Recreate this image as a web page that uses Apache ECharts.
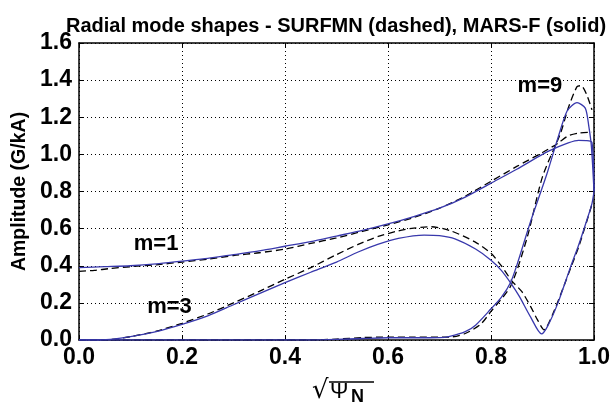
<!DOCTYPE html>
<html>
<head>
<meta charset="utf-8">
<script src="https://cdn.jsdelivr.net/npm/echarts@6/dist/echarts.min.js"></script>
<style>
html,body{margin:0;padding:0;background:#fff;}
#chart{width:613px;height:418px;}
</style>
</head>
<body>
<div id="chart"></div>
<script>
// ---- data (x = sqrt(psi_N), y = amplitude G/kA) ----
const titleText = 'Radial mode shapes - SURFMN (dashed), MARS-F (solid)';
const yAxisTitle = 'Amplitude (G/kA)';
const xTicks = [0.0, 0.2, 0.4, 0.6, 0.8, 1.0];
const yTicks = [0.0, 0.2, 0.4, 0.6, 0.8, 1.0, 1.2, 1.4, 1.6];

const m1Marsf = [[0,0.39],[0.05,0.395],[0.1,0.40],[0.15,0.41],[0.2,0.425],[0.25,0.44],[0.3,0.46],[0.35,0.48],[0.4,0.505],[0.45,0.53],[0.5,0.56],[0.55,0.59],[0.6,0.625],[0.65,0.665],[0.7,0.71],[0.75,0.77],[0.8,0.845],[0.85,0.92],[0.9,1.0],[0.93,1.04],[0.95,1.062],[0.97,1.075],[0.985,1.074],[0.996,1.065],[1.0,0.80]];
const m1Surfmn = [[0,0.37],[0.03,0.375],[0.06,0.385],[0.1,0.395],[0.15,0.405],[0.2,0.42],[0.25,0.435],[0.3,0.455],[0.35,0.47],[0.4,0.49],[0.45,0.52],[0.5,0.55],[0.55,0.585],[0.6,0.62],[0.65,0.66],[0.7,0.71],[0.75,0.775],[0.8,0.855],[0.85,0.935],[0.9,1.01],[0.93,1.06],[0.95,1.10],[0.97,1.115],[0.996,1.12]];
const m3Marsf = [[0,0],[0.04,0],[0.07,0.006],[0.1,0.018],[0.15,0.045],[0.2,0.084],[0.25,0.13],[0.3,0.19],[0.35,0.25],[0.4,0.309],[0.45,0.365],[0.5,0.42],[0.542,0.474],[0.58,0.515],[0.62,0.547],[0.67,0.565],[0.7,0.562],[0.73,0.545],[0.77,0.49],[0.8,0.43],[0.82,0.375],[0.84,0.30],[0.855,0.235],[0.877,0.123],[0.898,0.033],[0.91,0.075],[0.93,0.2],[0.954,0.39],[0.97,0.51],[0.986,0.645],[0.996,0.735],[1.0,0.80]];
const m3Surfmn = [[0,0],[0.05,0],[0.1,0.018],[0.15,0.048],[0.2,0.09],[0.25,0.14],[0.3,0.2],[0.35,0.262],[0.4,0.327],[0.45,0.39],[0.5,0.46],[0.542,0.515],[0.581,0.558],[0.62,0.588],[0.65,0.603],[0.684,0.61],[0.72,0.59],[0.768,0.53],[0.8,0.467],[0.82,0.40],[0.84,0.32],[0.86,0.26],[0.877,0.18],[0.89,0.11],[0.903,0.055],[0.92,0.14],[0.94,0.28],[0.955,0.39],[0.97,0.50],[0.986,0.64],[0.996,0.73]];
const m9Marsf = [[0,0],[0.45,0],[0.5,0.003],[0.55,0.008],[0.6,0.012],[0.65,0.012],[0.7,0.013],[0.72,0.02],[0.75,0.045],[0.77,0.08],[0.8,0.168],[0.82,0.23],[0.838,0.31],[0.851,0.41],[0.877,0.64],[0.908,0.89],[0.929,1.08],[0.948,1.235],[0.967,1.279],[0.983,1.249],[0.99,1.15],[0.995,1.04],[1.0,0.80]];
const m9Surfmn = [[0,0],[0.45,0],[0.5,0.005],[0.55,0.013],[0.6,0.016],[0.65,0.016],[0.72,0.016],[0.75,0.035],[0.78,0.085],[0.8,0.154],[0.838,0.29],[0.87,0.55],[0.9,0.88],[0.935,1.114],[0.95,1.25],[0.967,1.365],[0.975,1.37],[0.986,1.32],[0.996,1.24]];

const modeLabels = [
  {text: 'm=1', at: [0.1496, 0.515]},
  {text: 'm=3', at: [0.1757, 0.18]},
  {text: 'm=9', at: [0.895, 1.367]}
];

const BLUE = '#3838ac';
const FONT = '"Liberation Sans", Arial, sans-serif';

const chart = echarts.init(document.getElementById('chart'), null, {renderer: 'canvas'});

function solid(name, data) {
  return {name, type: 'line', data, showSymbol: false, symbol: 'none', smooth: 0.25,
    lineStyle: {color: BLUE, width: 1.3, type: 'solid'}, z: 3, animation: false};
}
function dashed(name, data) {
  return {name, type: 'line', data, showSymbol: false, symbol: 'none', smooth: 0.25,
    lineStyle: {color: '#000', width: 1.3, type: [7, 4]}, z: 2, animation: false};
}

const labelSeries = {
  type: 'scatter', symbolSize: 0, silent: true, animation: false,
  itemStyle: {opacity: 1},
  data: modeLabels.map(m => ({value: m.at, name: m.text})),
  label: {show: true, position: 'inside', formatter: p => p.name, color: '#000', opacity: 1,
    fontFamily: FONT, fontWeight: 'bold', fontSize: 22}
};

const axisCommon = {
  type: 'value', min: 0, max: 1, interval: 0.2
};

chart.setOption({
  animation: false,
  backgroundColor: '#fff',
  title: {text: titleText, left: 61, top: 11,
    textStyle: {fontFamily: FONT, fontWeight: 'bold', fontSize: 20, color: '#000'}},
  grid: {left: 79, right: 16, top: 43, bottom: 78, containLabel: false},
  xAxis: [
    Object.assign({}, axisCommon, {
      position: 'bottom',
      axisLine: {show: true, onZero: false, lineStyle: {color: '#000', width: 1.5}},
      axisTick: {show: true, inside: true, length: 5, lineStyle: {color: '#000', width: 1}},
      axisLabel: {show: true, margin: 6, color: '#000', fontFamily: FONT, fontWeight: 'bold', fontSize: 23,
        formatter: v => v.toFixed(1)},
      splitLine: {show: true, lineStyle: {color: '#000', width: 1, type: [1, 3]}}
    }),
    Object.assign({}, axisCommon, {
      position: 'top',
      axisLine: {show: true, onZero: false, lineStyle: {color: '#000', width: 1.5}},
      axisTick: {show: true, inside: true, length: 5, lineStyle: {color: '#000', width: 1}},
      axisLabel: {show: false}, splitLine: {show: false}
    })
  ],
  yAxis: [
    {
      type: 'value', min: 0, max: 1.6, interval: 0.2, position: 'left',
      name: yAxisTitle, nameLocation: 'middle', nameGap: 48, nameRotate: 90,
      nameTextStyle: {fontFamily: FONT, fontWeight: 'bold', fontSize: 19.5, color: '#000'},
      axisLine: {show: true, onZero: false, lineStyle: {color: '#000', width: 1.5}},
      axisTick: {show: true, inside: true, length: 5, lineStyle: {color: '#000', width: 1}},
      axisLabel: {show: true, margin: 7, color: '#000', fontFamily: FONT, fontWeight: 'bold', fontSize: 23,
        formatter: v => v.toFixed(1)},
      splitLine: {show: true, lineStyle: {color: '#000', width: 1, type: [1, 3]}}
    },
    {
      type: 'value', min: 0, max: 1.6, interval: 0.2, position: 'right',
      axisLine: {show: true, onZero: false, lineStyle: {color: '#000', width: 1.5}},
      axisTick: {show: true, inside: true, length: 5, lineStyle: {color: '#000', width: 1}},
      axisLabel: {show: false}, splitLine: {show: false}
    }
  ],
  graphic: [
    {type: 'text', left: 312, top: 378, style: {text: '√', font: '26px "DejaVu Sans", sans-serif', fill: '#000'}},
    {type: 'line', shape: {x1: 329, y1: 382, x2: 374, y2: 382}, style: {stroke: '#000', lineWidth: 1.5}},
    {type: 'text', left: 330, top: 381, style: {text: 'Ψ', font: '22px "Liberation Sans", Arial, sans-serif', fill: '#000'}},
    {type: 'text', left: 351, top: 388, style: {text: 'N', font: 'bold 18px "Liberation Sans", Arial, sans-serif', fill: '#000'}}
  ],
  series: [
    dashed('m=1 SURFMN', m1Surfmn),
    dashed('m=3 SURFMN', m3Surfmn),
    dashed('m=9 SURFMN', m9Surfmn),
    solid('m=1 MARS-F', m1Marsf),
    solid('m=3 MARS-F', m3Marsf),
    solid('m=9 MARS-F', m9Marsf),
    labelSeries
  ]
});
</script>
</body>
</html>
